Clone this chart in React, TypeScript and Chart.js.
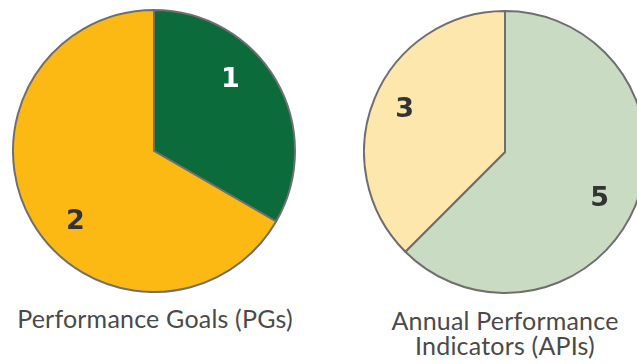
import React, { useEffect, useRef } from "react";
import { Chart, registerables } from "chart.js";

Chart.register(...registerables);

// ---- Data ----
const pgCategories = ["PG group A", "PG group B"];
const pgValues = [1, 2];
const apiCategories = ["API group A", "API group B"];
const apiValues = [5, 3];
const pgCaption = ["Performance Goals (PGs)"];
const apiCaption = ["Annual Performance", "Indicators (APIs)"];

// ---- Styles ----
const pgColors = ["#0b6b3b", "#fdb913"];
const apiColors = ["#cadbc4", "#fde7ad"];
const pgLabelColors = ["#ffffff", "#333333"];
const apiLabelColors = ["#333333", "#333333"];

const valueLabels = {
  id: "valueLabels",
  afterDatasetsDraw(chart: any, _args: any, opts: any) {
    const ctx = chart.ctx;
    const meta = chart.getDatasetMeta(0);
    const data = chart.data.datasets[0].data;
    meta.data.forEach((arc: any, i: number) => {
      const p = arc.getProps(["x", "y", "startAngle", "endAngle", "outerRadius"], true);
      const mid = (p.startAngle + p.endAngle) / 2 + ((opts.shift?.[i] ?? 0) * Math.PI) / 180;
      const r = p.outerRadius * (opts.radius?.[i] ?? 0.75);
      ctx.save();
      ctx.font = "bold 27px 'DejaVu Sans', sans-serif";
      ctx.fillStyle = opts.colors[i];
      ctx.textAlign = "center";
      ctx.textBaseline = "middle";
      ctx.fillText(String(data[i]), p.x + Math.cos(mid) * r, p.y + Math.sin(mid) * r);
      ctx.restore();
    });
  },
};

function PieChart(props: {
  labels: string[];
  values: number[];
  colors: string[];
  labelColors: string[];
  shift: number[];
  radius: number[];
}) {
  const ref = useRef<HTMLCanvasElement | null>(null);
  useEffect(() => {
    if (!ref.current) return;
    const chart = new Chart(ref.current, {
      type: "pie",
      data: {
        labels: props.labels,
        datasets: [
          {
            data: props.values,
            backgroundColor: props.colors,
            borderColor: "#6f6f6f",
            borderWidth: 2,
          },
        ],
      },
      options: {
        responsive: false,
        animation: false,
        events: [],
        layout: { padding: 0 },
        plugins: {
          legend: { display: false },
          tooltip: { enabled: false },
          valueLabels: { colors: props.labelColors, shift: props.shift, radius: props.radius },
        } as any,
      },
      plugins: [valueLabels as any],
    });
    return () => chart.destroy();
  }, []);
  return <canvas ref={ref} width={284} height={284} style={{ width: 284, height: 284, display: "block" }} />;
}

const captionStyle: React.CSSProperties = {
  position: "absolute",
  width: 320,
  textAlign: "center",
  fontFamily: "Lato, 'Open Sans', sans-serif",
  fontSize: 25,
  lineHeight: "25px",
  letterSpacing: "0.2px",
  color: "#4a4a4a",
};

export default function App() {
  return (
    <div
      style={{
        position: "fixed",
        left: 0,
        top: 0,
        width: 637,
        height: 364,
        overflow: "hidden",
        background: "#ffffff",
      }}
    >
      <div style={{ position: "absolute", left: 12, top: 9 }}>
        <PieChart
          labels={pgCategories}
          values={pgValues}
          colors={pgColors}
          labelColors={pgLabelColors}
          shift={[-13, -12]}
          radius={[0.74, 0.75]}
        />
      </div>
      <div style={{ position: "absolute", left: 363, top: 10 }}>
        <PieChart
          labels={apiCategories}
          values={apiValues}
          colors={apiColors}
          labelColors={apiLabelColors}
          shift={[4, 0]}
          radius={[0.75, 0.77]}
        />
      </div>
      <div style={{ ...captionStyle, left: -5, top: 306 }}>
        {pgCaption.map((t) => (
          <div key={t}>{t}</div>
        ))}
      </div>
      <div style={{ ...captionStyle, left: 345, top: 308 }}>
        {apiCaption.map((t) => (
          <div key={t}>{t}</div>
        ))}
      </div>
    </div>
  );
}
